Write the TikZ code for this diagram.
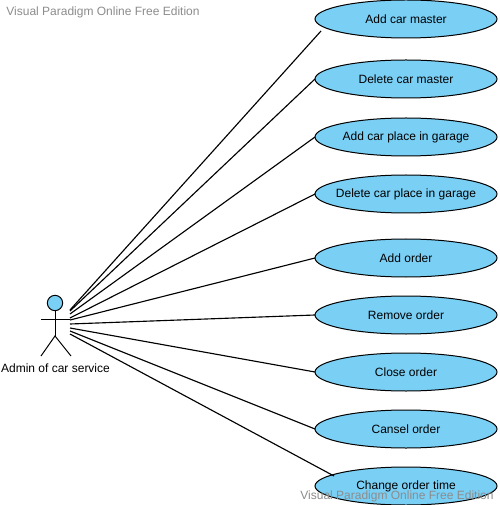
\documentclass[tikz,border=0pt]{standalone}
\usepackage{fontspec}
\setmainfont{Liberation Sans}
\definecolor{uc}{HTML}{7ACFF5}
\definecolor{wm}{HTML}{8C8C8C}
\tikzset{
  usecase/.style={ellipse,draw=black,fill=uc,line width=0.75pt,minimum width=136.5pt,minimum height=28.5pt,inner xsep=-30pt,inner ysep=0pt,outer sep=0pt,font=\fontsize{9pt}{11pt}\selectfont},
  link/.style={draw=black,line width=0.85pt},
  limb/.style={draw=black,line width=0.75pt},
  mark text/.style={text=wm,font=\fontsize{9pt}{11pt}\selectfont,inner sep=0pt},
  lbl/.style={font=\fontsize{9pt}{11pt}\selectfont,inner sep=0pt}
}
\usetikzlibrary{shapes.geometric}
\begin{document}
\begin{tikzpicture}[x=0.75pt,y=-0.75pt]
\useasboundingbox (0,0) rectangle (499,505);
\fill[white] (0,0) rectangle (499,505);
\node[usecase] (u1) at (406,19) {Add car master};
\node[usecase] (u2) at (406,79) {Delete car master};
\node[usecase] (u3) at (406,137) {Add car place in garage};
\node[usecase] (u4) at (406,194) {Delete car place in garage};
\node[usecase] (u5) at (406,258) {Add order};
\node[usecase] (u6) at (406,315) {Remove order};
\node[usecase] (u7) at (406,372) {Close order};
\node[usecase] (u8) at (406,429) {Cansel order};
\node[usecase] (u9) at (406,486) {Change order time};
\coordinate (e1) at (321,31);
\coordinate (e9) at (334,476);
\coordinate (a1) at (70,310);
\coordinate (a2) at (70,311);
\coordinate (a3) at (70,314);
\coordinate (a4) at (70,318);
\coordinate (a5) at (70,320);
\coordinate (a6) at (70,324);
\coordinate (a7) at (70,328);
\coordinate (a8) at (70,331);
\coordinate (a9) at (70,334);
\draw[link] (a1) -- (e1);
\draw[link] (a2) -- (u2.west);
\draw[link] (a3) -- (u3.west);
\draw[link] (a4) -- (u4.west);
\draw[link] (a5) -- (u5.west);
\draw[link] (a6) -- (u6.west);
\draw[link] (a7) -- (u7.west);
\draw[link] (a8) -- (u8.west);
\draw[link] (a9) -- (e9);
\node[circle,draw=black,fill=uc,line width=0.75pt,minimum size=11.5pt,inner sep=0pt,outer sep=0pt] (head) at (55,303) {};
\coordinate (hip) at (55,336);
\coordinate (larm) at (41,319);
\coordinate (rarm) at (70,319);
\coordinate (lfoot) at (41,356);
\coordinate (rfoot) at (71,356);
\draw[limb] (head.south) -- (hip);
\draw[limb] (larm) -- (rarm);
\draw[limb] (lfoot) -- (hip) -- (rfoot);
\node[lbl] (actor) at (55.5,368) {Admin of car service};
\node[mark text] (w1) at (103,12) {Visual Paradigm Online Free Edition};
\node[mark text] (w2) at (397,496) {Visual Paradigm Online Free Edition};
\end{tikzpicture}
\end{document}
